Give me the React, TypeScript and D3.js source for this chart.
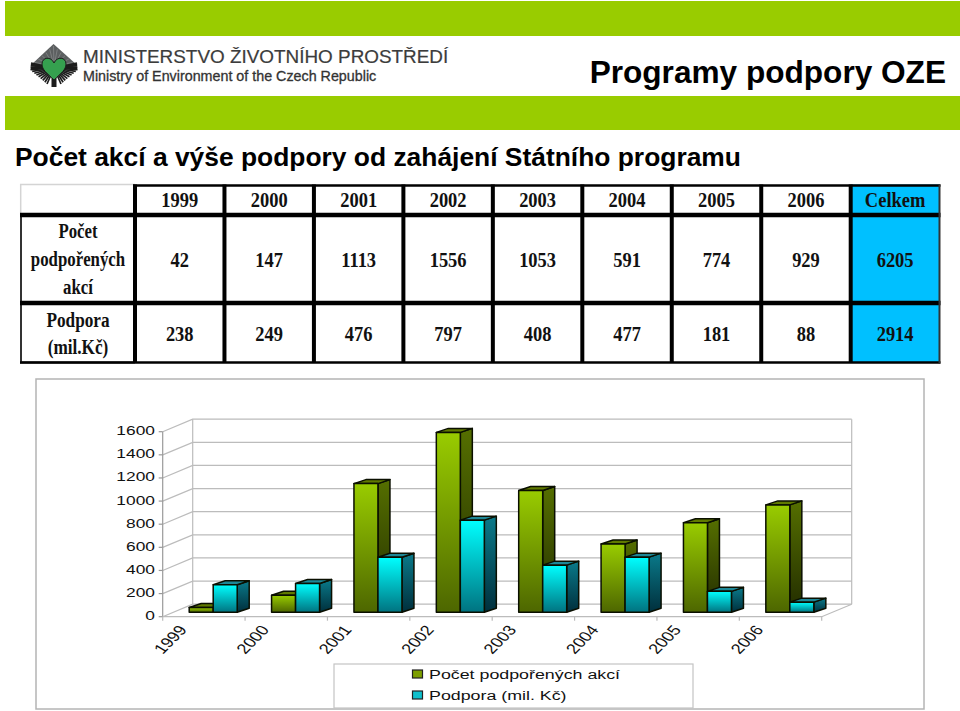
import React from 'react';
import * as d3 from 'd3';

const years = ['1999', '2000', '2001', '2002', '2003', '2004', '2005', '2006'];
const akce = [42, 147, 1113, 1556, 1053, 591, 774, 929];
const podpora = [238, 249, 476, 797, 408, 477, 181, 88];
const totals = ['6205', '2914'];
const yTicks = [0, 200, 400, 600, 800, 1000, 1200, 1400, 1600];
const rowLabels = [['Počet', 'podpořených', 'akcí'], ['Podpora', '(mil.Kč)']];
const legendLabels = ['Počet podpořených akcí', 'Podpora (mil. Kč)'];

const width = 960;
const height = 711;

// plot geometry, front plane + depth of the floor
const x = d3.scaleBand().domain(years).range([162.7, 821.7]);
const y = d3.scaleLinear().domain([0, 1600]).range([616.7, 431.7]);
const wallDx = 30;
const wallDy = 12.5;
const barDx = 11.5;
const barDy = 4.4;
const depthDx = 12;
const depthDy = 4;
const barW = 24;
const barPad = 15;

// table columns
const col = d3.scaleLinear().domain([0, 8]).range([135, 850.7]);
const rowLines = [184.5, 215, 303, 362.5];
const tableRight = 939.5;

function Bar({ cx, value, kind }: { cx: number; value: number; kind: string }) {
  const x0 = cx;
  const x1 = cx + barW;
  const yb = y(0) - barDy;
  const yt = yb - (y(0) - y(value));
  const front = `M${x0},${yt}H${x1}V${yb}H${x0}Z`;
  const side = `M${x1},${yt}L${x1 + depthDx},${yt - depthDy}V${yb - depthDy}L${x1},${yb}Z`;
  const top = `M${x0},${yt}L${x0 + depthDx},${yt - depthDy}H${x1 + depthDx}L${x1},${yt}Z`;
  return (
    <g stroke="#0a0f00" strokeWidth={1.5} strokeLinejoin="round">
      <path d={side} fill={`url(#${kind}Side)`} />
      <path d={top} fill={kind === 'olive' ? '#607a00' : '#1d8796'} />
      <path d={front} fill={`url(#${kind}Front)`} />
    </g>
  );
}

function Logo() {
  // rays run from the heart to the rim of the crown
  const rim = d3.range(0, 1.01, 1 / 13).map((t) =>
    t < 0.4
      ? [d3.interpolateNumber(31, 30.5)(t / 0.4), d3.interpolateNumber(63, 70)(t / 0.4)]
      : [d3.interpolateNumber(30.5, 47)((t - 0.4) / 0.6), d3.interpolateNumber(70, 84)((t - 0.4) / 0.6)]
  );
  return (
    <g>
      <path d="M53.5,44 L77,65 L54,72 L31,65Z" fill="#5c5f60" />
      {d3.range(-6, 7).map((d) => (
        <line key={d} x1={54} y1={66} x2={53.5 + d * 3.8} y2={46 + Math.abs(d) * 3.3} stroke="#8a8c8c" strokeWidth={0.7} />
      ))}
      {[-1, 1].map((s) =>
        rim.map((p, i) => (
          <line
            key={`${s}-${i}`}
            x1={54}
            y1={68}
            x2={54 + s * (54 - p[0])}
            y2={p[1]}
            stroke="#1c1c1c"
            strokeWidth={1.7}
          />
        ))
      )}
      <rect x={51.5} y={72} width={5} height={15} fill="#1c1c1c" />
      <path
        d="M54,80 C47,73 42,70 42,64 C42,57 51,56 54,63 C57,56 66,57 66,64 C66,70 61,73 54,80Z"
        fill="#35a04f"
        stroke="#1c1c1c"
        strokeWidth={1}
      />
      <text x={83} y={63} fontFamily="Liberation Sans" fontSize={18.9} fill="#3c3c3c" stroke="#3c3c3c" strokeWidth={0.2}>
        MINISTERSTVO ŽIVOTNÍHO PROSTŘEDÍ
      </text>
      <text x={83} y={81} fontFamily="Liberation Sans" fontSize={14.3} fill="#333" stroke="#333" strokeWidth={0.3}>
        Ministry of Environment of the Czech Republic
      </text>
    </g>
  );
}

// Times text squeezed a bit, as in the slide
function Cell({ cx, cy, sx = 0.9, children }: { cx: number; cy: number; sx?: number; children: React.ReactNode }) {
  return (
    <text
      transform={`translate(${cx},${cy}) scale(${sx},1)`}
      textAnchor="middle"
      fontFamily="Liberation Serif"
      fontWeight="bold"
      fontSize={20.5}
      fill="#111"
    >
      {children}
    </text>
  );
}

function Table() {
  const centers = years.map((_, i) => (col(i) + col(i + 1)) / 2);
  const lastC = (col(8) + tableRight) / 2;
  const rowY = [207, 267, 341];
  return (
    <g>
      <rect x={col(8)} y={rowLines[0]} width={tableRight - col(8)} height={rowLines[3] - rowLines[0]} fill="#00c0ff" />
      <path d={`M20.7,${rowLines[1]}V${rowLines[0]}H${col(0)}`} fill="none" stroke="#d4d4d4" strokeWidth={1.5} />
      <path d={`M21,${rowLines[1]}V${rowLines[3]}H${col(0)}`} fill="none" stroke="#333" strokeWidth={2} />
      <g stroke="#000" strokeWidth={4.5}>
        <line x1={20} x2={tableRight + 1} y1={rowLines[1]} y2={rowLines[1]} />
        <line x1={20} x2={tableRight + 1} y1={rowLines[2]} y2={rowLines[2]} />
        <line x1={col(0) - 2} x2={tableRight + 1} y1={rowLines[0] + 1} y2={rowLines[0] + 1} strokeWidth={2.5} />
        <line x1={20} x2={tableRight + 1} y1={rowLines[3]} y2={rowLines[3]} strokeWidth={2.5} />
        {d3.range(0, 9).map((i) => (
          <line key={i} x1={col(i)} x2={col(i)} y1={rowLines[0]} y2={rowLines[3]} strokeWidth={4} />
        ))}
        <line x1={tableRight} x2={tableRight} y1={rowLines[0]} y2={rowLines[3] + 1} stroke="#333" strokeWidth={2} />
      </g>
      {years.map((d, i) => (
        <g key={d}>
          <Cell cx={centers[i]} cy={rowY[0]}>{d}</Cell>
          <Cell cx={centers[i]} cy={rowY[1]}>{akce[i]}</Cell>
          <Cell cx={centers[i]} cy={rowY[2]}>{podpora[i]}</Cell>
        </g>
      ))}
      <Cell cx={lastC} cy={rowY[0]}>Celkem</Cell>
      <Cell cx={lastC} cy={rowY[1]}>{totals[0]}</Cell>
      <Cell cx={lastC} cy={rowY[2]}>{totals[1]}</Cell>
      {rowLabels[0].map((t, i) => (
        <Cell key={t} cx={78} cy={238 + i * 28} sx={0.82}>{t}</Cell>
      ))}
      {rowLabels[1].map((t, i) => (
        <Cell key={t} cx={78} cy={327 + i * 27} sx={0.84}>{t}</Cell>
      ))}
    </g>
  );
}

function Chart() {
  const x0 = x.range()[0];
  const x1 = x.range()[1];
  const band = x.bandwidth();
  return (
    <g>
      <rect x={36} y={379} width={888} height={330} fill="#fff" stroke="#b4b4b4" strokeWidth={1.5} />
      {/* walls and grid */}
      <g stroke="#bcbcbc" strokeWidth={1.2} fill="none">
        {yTicks.map((t) => (
          <path key={t} d={`M${x0},${y(t)}L${x0 + wallDx},${y(t) - wallDy}H${x1 + wallDx}`} />
        ))}
        <path d={`M${x0},${y(0)}V${y(1600)}`} stroke="#999" />
        <path d={`M${x0 + wallDx},${y(0) - wallDy}V${y(1600) - wallDy}`} />
        <path d={`M${x1 + wallDx},${y(0) - wallDy}V${y(1600) - wallDy}`} />
        <path d={`M${x0},${y(0)}H${x1}L${x1 + wallDx},${y(0) - wallDy}`} />
        {yTicks.map((t) => (
          <line key={t} x1={x0 - 4} x2={x0} y1={y(t)} y2={y(t)} stroke="#999" />
        ))}
        {d3.range(0, 9).map((i) => (
          <line key={i} x1={x0 + i * band} x2={x0 + i * band} y1={y(0)} y2={y(0) + 4} />
        ))}
      </g>
      {yTicks.map((t) => (
        <text
          key={t}
          transform={`translate(155,${y(t) + 3.5}) scale(1.39,1)`}
          textAnchor="end"
          fontFamily="Liberation Sans"
          fontSize={12.5}
          fill="#111"
        >
          {t}
        </text>
      ))}
      {/* slide was stretched sideways after the labels were rotated */}
      {years.map((d) => (
        <text
          key={d}
          transform={`translate(${(x(d) as number) + 25},${y(0) + 13.5}) scale(1.3,1) rotate(-52)`}
          textAnchor="end"
          fontFamily="Liberation Sans"
          fontSize={14}
          fill="#111"
        >
          {d}
        </text>
      ))}
      {years.map((d, i) => {
        const start = (x(d) as number) + barDx + barPad;
        return (
          <g key={d}>
            <Bar cx={start} value={akce[i]} kind="olive" />
            <Bar cx={start + barW} value={podpora[i]} kind="cyan" />
          </g>
        );
      })}
      {/* legend */}
      <rect x={334} y={664} width={359} height={44} fill="#fff" stroke="#c4c4c4" strokeWidth={1.2} />
      {legendLabels.map((t, i) => (
        <g key={t}>
          <rect
            x={412.5}
            y={670 + i * 21}
            width={10}
            height={8}
            fill={i === 0 ? '#7d9f00' : '#0fc0cc'}
            stroke="#222"
            strokeWidth={1.2}
          />
          <text
            transform={`translate(429,${679 + i * 21}) scale(1.32,1)`}
            fontFamily="Liberation Sans"
            fontSize={13.5}
            fill="#111"
          >
            {t}
          </text>
        </g>
      ))}
    </g>
  );
}

export default function App() {
  return (
    <svg
      width={width}
      height={height}
      style={{ position: 'absolute', left: 0, top: 0, display: 'block', background: '#fff' }}
    >
      <defs>
        <linearGradient id="oliveFront" x1="0" y1="0" x2="0" y2="1">
          <stop offset="0" stopColor="#99cc00" />
          <stop offset="1" stopColor="#4d6600" />
        </linearGradient>
        <linearGradient id="oliveSide" x1="0" y1="0" x2="0" y2="1">
          <stop offset="0" stopColor="#556f00" />
          <stop offset="1" stopColor="#222c00" />
        </linearGradient>
        <linearGradient id="cyanFront" x1="0" y1="0" x2="0" y2="1">
          <stop offset="0" stopColor="#00ffff" />
          <stop offset="1" stopColor="#007380" />
        </linearGradient>
        <linearGradient id="cyanSide" x1="0" y1="0" x2="0" y2="1">
          <stop offset="0" stopColor="#0a7a8a" />
          <stop offset="1" stopColor="#002f3c" />
        </linearGradient>
      </defs>
      <rect x={5} y={1} width={955} height={35} fill="#99cc00" />
      <rect x={5} y={96} width={955} height={34} fill="#99cc00" />
      <Logo />
      <text x={946} y={83} textAnchor="end" fontFamily="Liberation Sans" fontWeight="bold" fontSize={31.6} fill="#000">
        Programy podpory OZE
      </text>
      <text x={15} y={166} fontFamily="Liberation Sans" fontWeight="bold" fontSize={26.4} fill="#000">
        Počet akcí a výše podpory od zahájení Státního programu
      </text>
      <Table />
      <Chart />
    </svg>
  );
}
